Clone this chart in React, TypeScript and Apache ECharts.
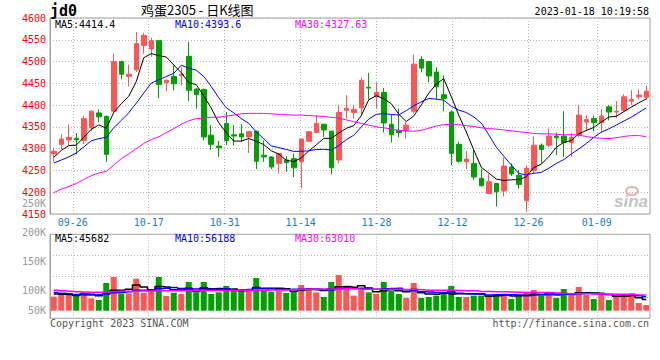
import React, { useEffect, useRef } from 'react';
import * as echarts from 'echarts';

const dates = [
  '09-21','09-22','09-23','09-26','09-27','09-28','09-29','09-30',
  '10-10','10-11','10-12','10-13','10-14','10-17','10-18','10-19','10-20','10-21','10-24','10-25','10-26','10-27','10-28','10-31',
  '11-01','11-02','11-03','11-04','11-07','11-08','11-09','11-10','11-11','11-14','11-15','11-16','11-17','11-18','11-21','11-22','11-23','11-24','11-25','11-28','11-29','11-30',
  '12-01','12-02','12-05','12-06','12-07','12-08','12-09','12-12','12-13','12-14','12-15','12-16','12-19','12-20','12-21','12-22','12-23','12-26','12-27','12-28','12-29','12-30',
  '01-03','01-04','01-05','01-06','01-09','01-10','01-11','01-12','01-13','01-16','01-17','01-18'
];
const labelDates = ['09-26', '10-17', '10-31', '11-14', '11-28', '12-12', '12-26', '01-09'];

const opens = [
  4288, 4310, 4320, 4324, 4319, 4348, 4382, 4374, 4386, 4500,
  4466, 4481, 4537, 4529, 4548, 4452, 4466, 4468, 4512, 4437,
  4436, 4331, 4306, 4358, 4332, 4334, 4327, 4340, 4285, 4281,
  4266, 4274, 4277, 4270, 4317, 4337, 4356, 4340, 4274, 4388,
  4383, 4394, 4441, 4419, 4429, 4356, 4342, 4342, 4386, 4505,
  4500, 4476, 4424, 4384, 4310, 4270, 4266, 4232, 4197, 4220,
  4203, 4258, 4239, 4181, 4250, 4308, 4308, 4329, 4329, 4314,
  4331, 4361, 4369, 4360, 4396, 4384, 4388, 4409, 4419, 4418
];
const closes = [
  4294, 4322, 4326, 4320, 4369, 4386, 4373, 4287, 4500, 4471,
  4471, 4541, 4560, 4548, 4447, 4457, 4449, 4471, 4434, 4424,
  4327, 4310, 4302, 4319, 4329, 4327, 4339, 4271, 4281, 4258,
  4289, 4268, 4256, 4322, 4339, 4358, 4343, 4256, 4383, 4393,
  4390, 4457, 4439, 4429, 4359, 4332, 4337, 4354, 4494, 4485,
  4467, 4442, 4415, 4289, 4271, 4276, 4235, 4215, 4224, 4201,
  4260, 4242, 4218, 4255, 4308, 4298, 4329, 4325, 4314, 4326,
  4377, 4367, 4360, 4375, 4384, 4386, 4419, 4413, 4423, 4432
];
const lows = [
  4270, 4299, 4308, 4287, 4310, 4340, 4361, 4270, 4383, 4459,
  4443, 4476, 4518, 4511, 4416, 4432, 4434, 4445, 4409, 4392,
  4319, 4297, 4281, 4308, 4307, 4316, 4290, 4253, 4270, 4253,
  4243, 4247, 4235, 4209, 4316, 4335, 4327, 4241, 4266, 4369,
  4369, 4377, 4413, 4392, 4337, 4314, 4326, 4323, 4381, 4475,
  4453, 4413, 4386, 4262, 4268, 4253, 4228, 4213, 4197, 4167,
  4190, 4237, 4208, 4155, 4243, 4266, 4304, 4285, 4281, 4281,
  4327, 4340, 4340, 4338, 4365, 4370, 4384, 4400, 4413, 4412
];
const highs = [
  4302, 4333, 4356, 4336, 4375, 4388, 4390, 4376, 4518, 4502,
  4493, 4568, 4566, 4555, 4549, 4459, 4491, 4488, 4545, 4438,
  4438, 4354, 4318, 4384, 4354, 4356, 4340, 4341, 4319, 4283,
  4290, 4283, 4289, 4323, 4340, 4377, 4357, 4341, 4400, 4423,
  4400, 4464, 4474, 4452, 4439, 4378, 4392, 4361, 4516, 4512,
  4501, 4487, 4468, 4388, 4316, 4294, 4297, 4254, 4242, 4221,
  4280, 4266, 4251, 4262, 4328, 4312, 4346, 4337, 4386, 4337,
  4400, 4377, 4376, 4391, 4400, 4409, 4425, 4434, 4436, 4445
];

const ma5 = [
  4280, 4296, 4307, 4308, 4326, 4344.4, 4354.6, 4346.8, 4383, 4403.4,
  4420.4, 4454, 4508.6, 4518.2, 4513.4, 4510.6, 4492.2, 4474.4, 4451.6, 4447,
  4421, 4393.2, 4359.4, 4336.4, 4317.4, 4317.4, 4323.2, 4317, 4309.4, 4295.2,
  4287.6, 4273.4, 4270.4, 4278.6, 4294.8, 4308.6, 4323.6, 4323.6, 4335.8, 4346.6,
  4353, 4375.8, 4412.4, 4421.6, 4414.8, 4403.2, 4379.2, 4362.2, 4375.2, 4400.4,
  4427.4, 4448.4, 4460.6, 4419.6, 4376.8, 4338.6, 4297.2, 4257.2, 4244.2, 4230.2,
  4227, 4228.4, 4229, 4235.2, 4256.6, 4264.2, 4281.6, 4303, 4314.8, 4318.4,
  4334.2, 4341.8, 4348.8, 4361, 4372.6, 4374.4, 4384.8, 4395.4, 4405, 4414.4
];
const ma10 = [
  4267, 4274, 4281, 4290, 4304, 4318, 4323, 4326, 4348, 4364.7,
  4382.4, 4404.3, 4427.7, 4450.6, 4458.4, 4465.5, 4473.1, 4491.5, 4484.9, 4480.2,
  4465.8, 4442.7, 4416.9, 4394, 4382.2, 4369.2, 4358.2, 4338.2, 4322.9, 4306.3,
  4302.5, 4298.3, 4293.7, 4294, 4295, 4298.1, 4298.5, 4297, 4307.2, 4320.7,
  4330.8, 4349.7, 4368, 4378.7, 4380.7, 4378.1, 4377.5, 4387.3, 4398.4, 4407.6,
  4415.3, 4413.8, 4411.4, 4397.4, 4388.6, 4383, 4372.8, 4358.9, 4331.9, 4303.5,
  4282.8, 4262.8, 4243.1, 4239.7, 4243.4, 4245.6, 4255, 4266, 4275, 4287.5,
  4299.2, 4311.7, 4325.9, 4337.9, 4345.5, 4354.3, 4363.3, 4372.1, 4383, 4393.6
];
const ma30 = [
  4199, 4207, 4213, 4220, 4229, 4238, 4244, 4248, 4262, 4277,
  4288, 4300, 4312, 4321, 4327, 4337, 4346, 4356, 4364, 4369,
  4371, 4372, 4372, 4375, 4377, 4380, 4381, 4381, 4381, 4380,
  4379, 4378, 4377, 4377, 4376, 4375, 4374, 4372, 4370, 4366,
  4362, 4358, 4354, 4350, 4348, 4345, 4342, 4341, 4340, 4342,
  4347, 4352, 4355, 4356, 4355, 4353, 4351, 4348, 4346, 4345,
  4343, 4341, 4339, 4337, 4335, 4334, 4334, 4333, 4332, 4332,
  4331, 4328, 4325, 4324, 4323, 4325, 4328, 4330, 4330, 4327.63
];

const volumes = [
  56700, 70200, 70200, 66200, 74300, 50000, 43200, 112000, 136400, 70200,
  70200, 129600, 72900, 81000, 136400, 59400, 72900, 67500, 116100, 74300,
  116100, 67500, 74300, 99900, 79700, 79700, 79700, 132300, 83700, 77000,
  79700, 71600, 81000, 104000, 91800, 74300, 55400, 116100, 144500, 97200,
  60800, 83700, 74300, 67500, 116100, 79700, 67500, 51300, 112000, 51300,
  55400, 60800, 71600, 99900, 55400, 55400, 60800, 60800, 60800, 64800,
  64800, 47300, 63500, 74300, 83700, 60800, 64800, 51300, 87800, 60800,
  95900, 64800, 47300, 74300, 43200, 60800, 67500, 60800, 31100, 23000
];
const vma5 = [
  68000, 67000, 66000, 61000, 67500, 66200, 60800, 69100, 83200, 82400,
  86400, 103700, 95900, 84800, 98000, 95900, 84500, 83400, 90500, 78000,
  89400, 88300, 89700, 86400, 87500, 80200, 82700, 94300, 91000, 90500,
  90500, 88900, 78600, 82700, 85600, 84500, 81300, 88300, 96400, 97500,
  94800, 100500, 92100, 76700, 80500, 84300, 81000, 76400, 85300, 72400,
  67500, 66200, 70200, 67800, 68600, 68600, 68600, 66500, 58600, 60500,
  62400, 59700, 60200, 62900, 66700, 65900, 69400, 67000, 69700, 65100,
  72100, 72100, 71300, 68600, 65100, 58100, 58600, 61300, 52700, 45682
];
const vma10 = [
  74000, 71000, 69000, 66000, 64000, 63000, 65000, 68000, 73000, 75000,
  76300, 82300, 82500, 84000, 90200, 91200, 94100, 89700, 87700, 88000,
  92700, 86400, 86600, 88500, 82800, 84800, 85500, 92000, 88700, 89000,
  85400, 85800, 86500, 86900, 88100, 87500, 85100, 83500, 89600, 91600,
  89700, 90900, 90200, 86600, 89000, 89600, 90800, 84300, 81000, 76500,
  75900, 73600, 73300, 76600, 70500, 68100, 67400, 68400, 63200, 64600,
  65500, 64200, 63400, 60800, 63600, 64200, 64600, 63600, 66300, 65900,
  69000, 70800, 69200, 69200, 65100, 65100, 65400, 66300, 60700, 56188
];
const vma30 = [
  83000, 81000, 79000, 77000, 76000, 75000, 75000, 76000, 78000, 79000,
  79000, 80000, 80000, 80000, 81000, 81000, 81000, 81000, 82000, 82000,
  82000, 82000, 82000, 82000, 82000, 83000, 83000, 83000, 83000, 83300,
  84100, 84100, 84500, 85800, 86400, 87200, 87600, 87700, 88000, 88900,
  88600, 87100, 87100, 86700, 86000, 86700, 86500, 86000, 85800, 85100,
  83000, 82800, 82700, 82700, 81900, 81100, 80500, 78100, 77300, 76900,
  76400, 75600, 75000, 74000, 73700, 73300, 73600, 71400, 69500, 68300,
  69500, 68800, 67900, 68200, 65700, 65100, 65100, 65400, 64000, 63010
];

const UP = '#ff5555';
const DOWN = '#00a000';
const MONO = '"DejaVu Sans Mono", monospace';
const GRID_LINE = '#b4b4b4';
const BORDER = '#a0a0a0';

const last = (a: number[]) => a[a.length - 1];

export default function App() {
  const ref = useRef<HTMLDivElement>(null);

  useEffect(() => {
    if (!ref.current) return;
    const chart = echarts.init(ref.current, null, { renderer: 'svg' });
    const isLabel = (_i: number, v: string) => labelDates.indexOf(v) >= 0;

    const txt = (text: string, x: number, y: number, fill: string, extra: any = {}) => ({
      type: 'text', x, y, silent: true, z: 100,
      style: { text, fill, font: `10px ${MONO}`, verticalAlign: 'middle', align: 'left', ...extra },
    });

    chart.setOption({
      animation: false,
      backgroundColor: '#ffffff',
      grid: [
        { left: 50, right: 10, top: 18, height: 196, show: true, borderColor: BORDER, borderWidth: 1 },
        { left: 50, right: 10, top: 234.3, height: 76.4 },
        { left: 50, right: 10, top: 234.3, height: 84, show: true, borderColor: BORDER, borderWidth: 1 },
        { left: 50, right: 10, top: 203, height: 117 },
      ],
      xAxis: [
        {
          type: 'category', gridIndex: 0, data: dates, boundaryGap: false, position: 'bottom',
          axisLine: { show: false }, axisTick: { show: false },
          axisLabel: {
            interval: isLabel,
            color: '#1a7bd0', fontFamily: MONO, fontSize: 10, margin: 3,
          },
          splitLine: { show: true, interval: isLabel, lineStyle: { color: GRID_LINE, type: [1, 2], width: 1 } },
        },
        { type: 'category', gridIndex: 0, data: dates, boundaryGap: true, position: 'top', show: false },
        { type: 'category', gridIndex: 1, data: dates, boundaryGap: true, show: false },
        {
          type: 'category', gridIndex: 2, data: dates, boundaryGap: false,
          axisLine: { show: false }, axisTick: { show: false }, axisLabel: { show: false, interval: isLabel },
          splitLine: { show: true, interval: isLabel, lineStyle: { color: GRID_LINE, type: [1, 2], width: 1 } },
        },
        { type: 'value', gridIndex: 3, min: 0, max: 1, show: false },
      ],
      yAxis: [
        {
          type: 'value', gridIndex: 0, min: 4150, max: 4600, interval: 50,
          axisLine: { show: true, lineStyle: { color: BORDER } }, axisTick: { show: false },
          axisLabel: {
            color: '#ff0000', fontFamily: MONO, fontSize: 10, lineHeight: 8, margin: 4,
            formatter: (v: number) => String(v),
          },
          splitLine: { show: true, lineStyle: { color: GRID_LINE, type: [1, 2], width: 1 } },
        },
        { type: 'value', gridIndex: 1, min: 0, max: 309000, show: false },
        {
          type: 'value', gridIndex: 2, min: 0, max: 4, interval: 1,
          axisLine: { show: true, lineStyle: { color: BORDER } }, axisTick: { show: false }, axisLabel: { show: false },
          splitLine: { show: true, lineStyle: { color: GRID_LINE, type: [1, 2], width: 1 } },
        },
        {
          type: 'value', gridIndex: 3, min: 50000, max: 250000, interval: 50000,
          axisLine: { show: false }, axisTick: { show: false }, splitLine: { show: false },
          axisLabel: {
            color: '#999999', fontFamily: MONO, fontSize: 10, lineHeight: 8, margin: 4,
            formatter: (v: number) => (v === 50000 ? '{lo|50K}' : `${v / 1000}K`),
            rich: { lo: { color: '#999999', fontFamily: MONO, fontSize: 10, lineHeight: 8, padding: [0, 0, 19, 0] } },
          },
        },
      ],
      series: [
        {
          type: 'candlestick', xAxisIndex: 1, yAxisIndex: 0, barWidth: 5,
          data: dates.map((_, i) => [opens[i], closes[i], lows[i], highs[i]]),
          itemStyle: { color: UP, color0: DOWN, borderColor: UP, borderColor0: DOWN, borderWidth: 1 },
        },
        { type: 'line', xAxisIndex: 1, yAxisIndex: 0, data: ma5, symbol: 'none', lineStyle: { color: '#000000', width: 1 } },
        { type: 'line', xAxisIndex: 1, yAxisIndex: 0, data: ma10, symbol: 'none', lineStyle: { color: '#0000ff', width: 1 } },
        { type: 'line', xAxisIndex: 1, yAxisIndex: 0, data: ma30, symbol: 'none', lineStyle: { color: '#ff00ff', width: 1 } },
        {
          type: 'bar', xAxisIndex: 2, yAxisIndex: 1, barWidth: 6,
          data: volumes.map((v, i) => ({ value: v, itemStyle: { color: closes[i] >= opens[i] ? UP : DOWN } })),
        },
        { type: 'line', xAxisIndex: 2, yAxisIndex: 1, data: vma5, symbol: 'none', step: 'middle', lineStyle: { color: '#000000', width: 1.5 } },
        { type: 'line', xAxisIndex: 2, yAxisIndex: 1, data: vma10, symbol: 'none', step: 'middle', lineStyle: { color: '#0000ff', width: 1.5 } },
        { type: 'line', xAxisIndex: 2, yAxisIndex: 1, data: vma30, symbol: 'none', step: 'middle', lineStyle: { color: '#ff00ff', width: 1.5 } },
      ],
      graphic: [
        txt('jd0', 50, 11, '#000000', { font: `bold 15px ${MONO}` }),
        txt('鸡蛋2305 - 日K线图', 141, 9.5, '#000000', { font: '13px "Noto Sans CJK SC"' }),
        txt('2023-01-18 10:19:58', 649, 11.5, '#000000', { align: 'right' }),
        txt(`MA5:${last(ma5)}`, 55, 24, '#000000'),
        txt(`MA10:${last(ma10)}`, 175, 24, '#0000ff'),
        txt(`MA30:${last(ma30)}`, 295, 24, '#ff00ff'),
        txt(`MA5:${last(vma5)}`, 55, 238.5, '#000000'),
        txt(`MA10:${last(vma10)}`, 175, 238.5, '#0000ff'),
        txt(`MA30:${last(vma30)}`, 295, 238.5, '#ff00ff'),
        txt('Copyright 2023 SINA.COM', 50, 323.5, '#555555'),
        txt('http://finance.sina.com.cn', 649, 323.5, '#555555', { align: 'right' }),
        {
          type: 'ellipse', silent: true, z: 1,
          shape: { cx: 632, cy: 191, rx: 6, ry: 4 },
          style: { fill: 'none', stroke: '#e0b4b4', lineWidth: 2 },
        },
        txt('sina', 648, 201, '#c4c4c4', { align: 'right', font: 'italic bold 17px "Liberation Sans"', z: 1 }),
      ],
    });
    return () => chart.dispose();
  }, []);

  return (
    <div
      ref={ref}
      style={{ position: 'fixed', left: 0, top: 0, width: 660, height: 360, background: '#fff' }}
    />
  );
}
